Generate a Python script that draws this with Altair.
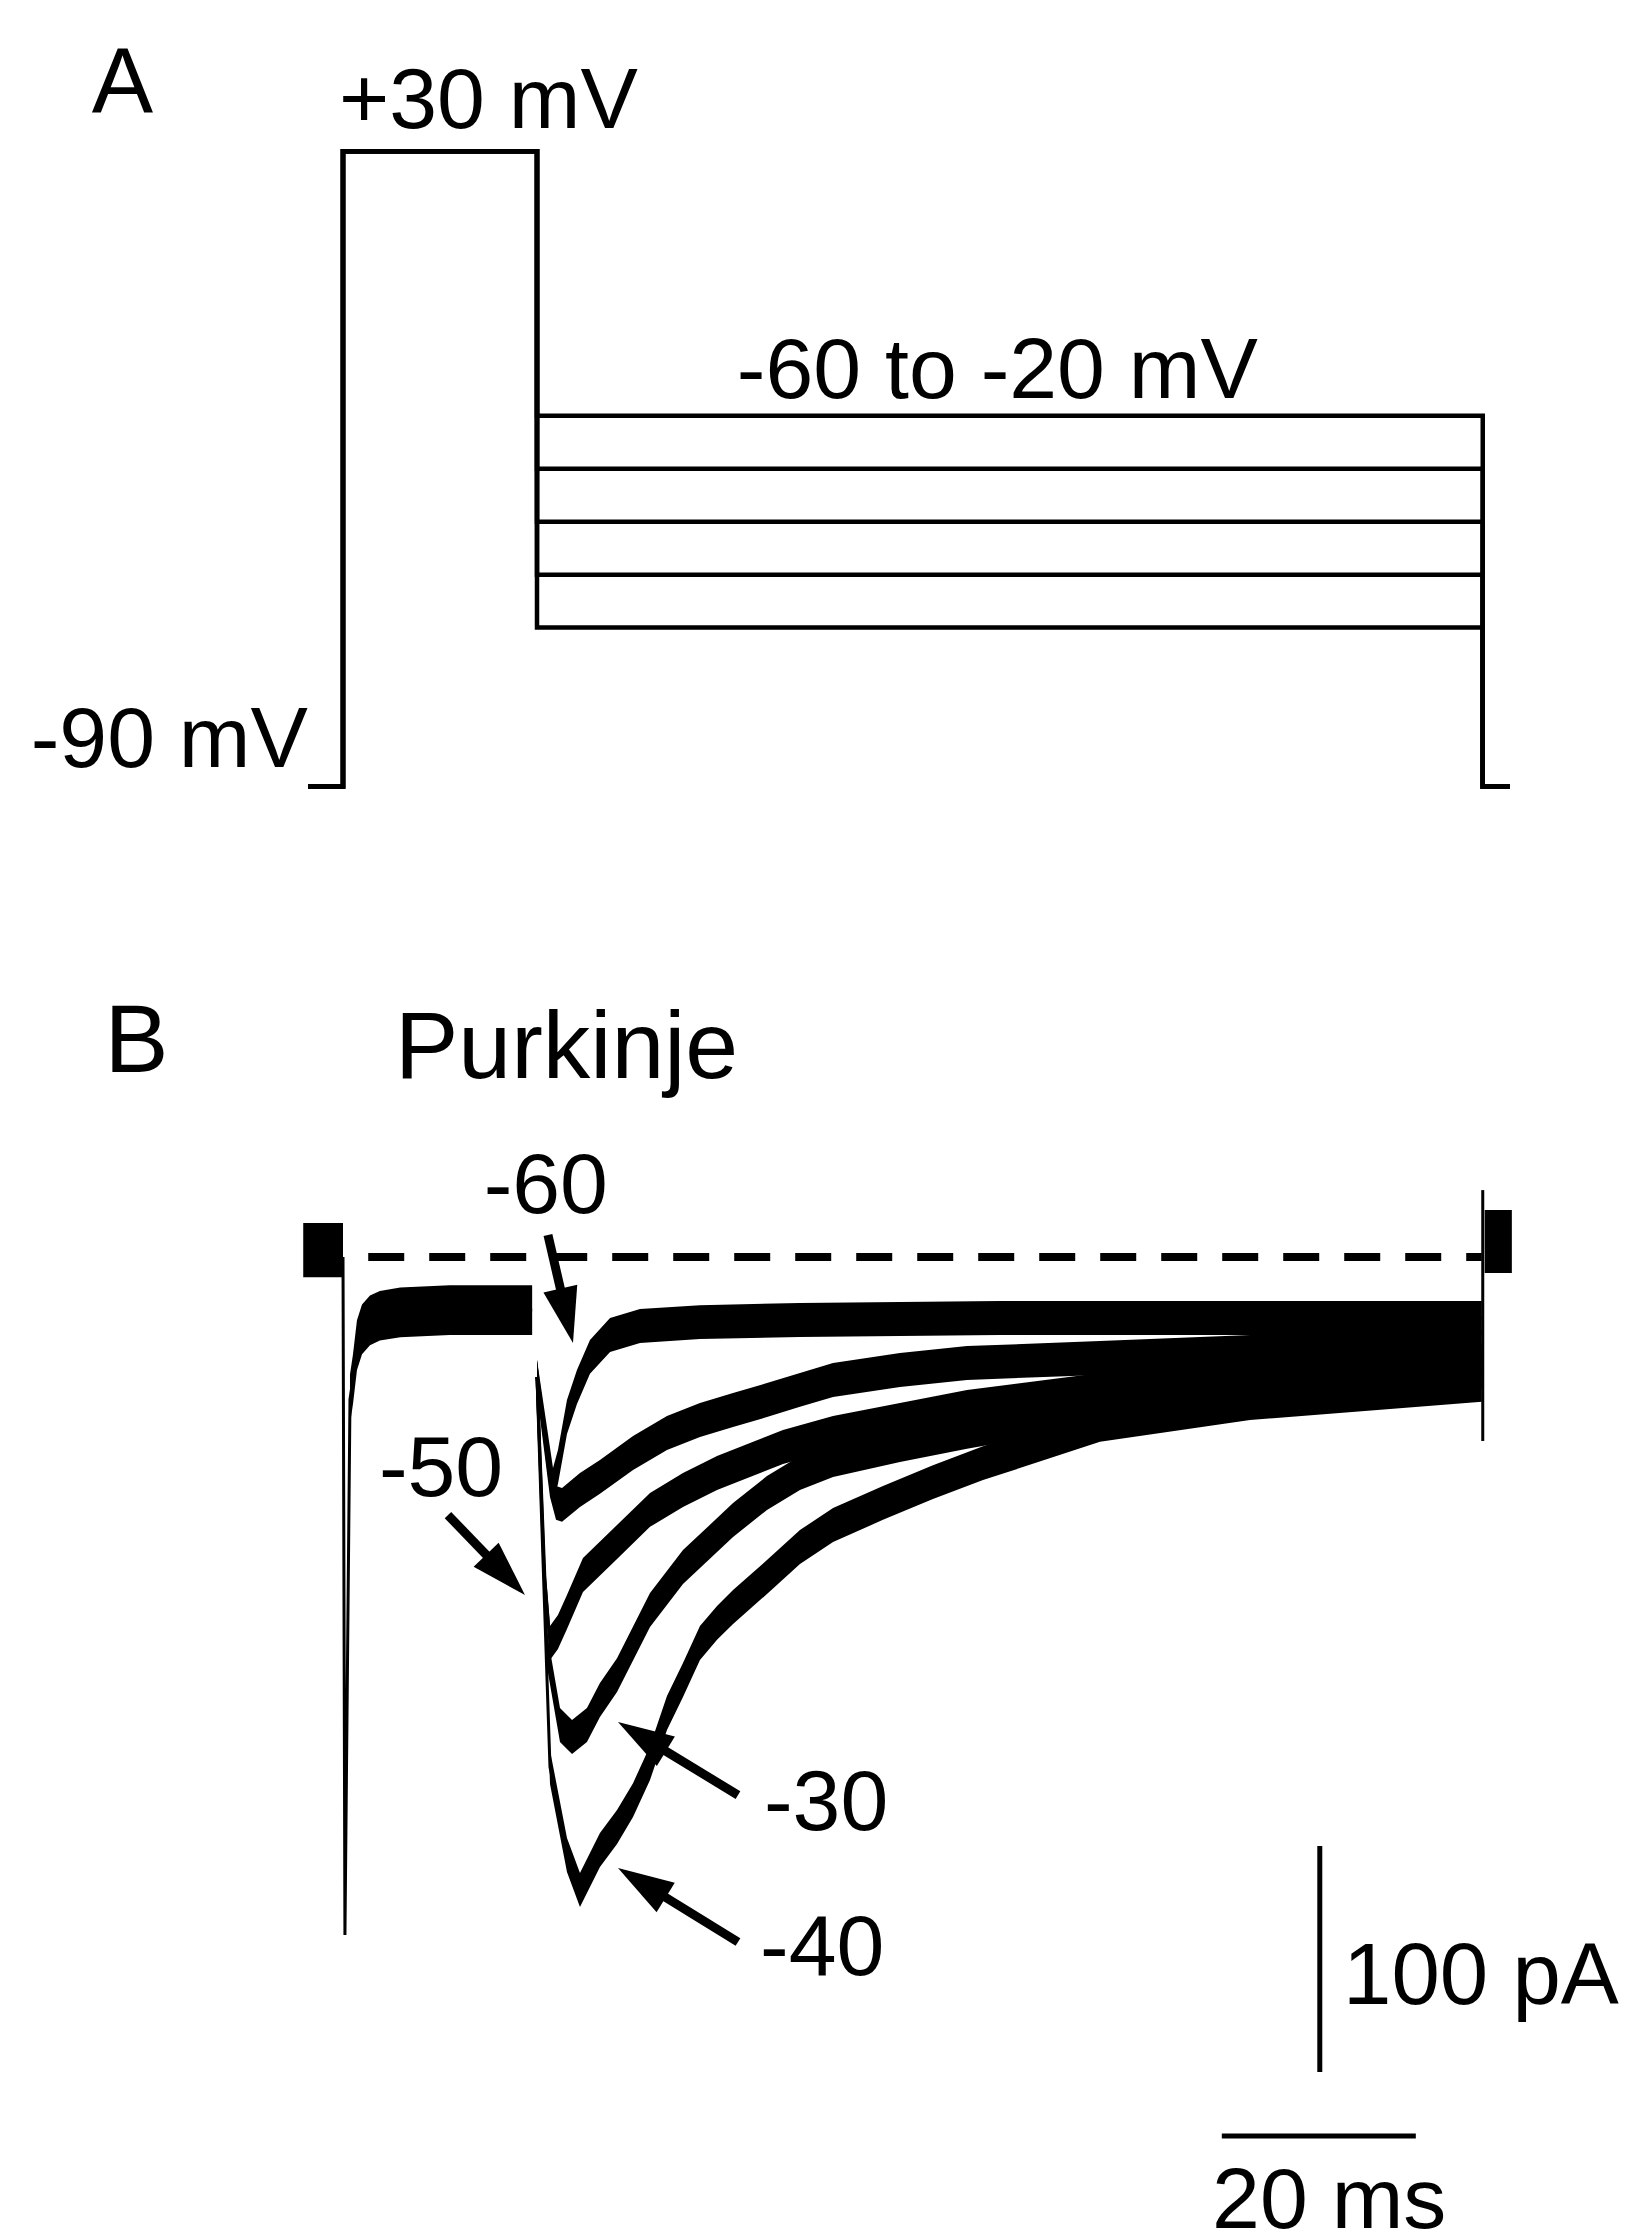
import math
import altair as alt
import pandas as pd

# ------------------------------------------------------------------
# Calibration of the figure (page pixels of the 1643 x 2240 picture)
# ------------------------------------------------------------------
W, H = 1627, 2224          # plot area (page minus 8px margin)
OFF = 8
X_T0 = 343.0               # page x of t = 0 ms
PX_PER_MS = 9.7
MV_REF, Y_MV_REF = -35.0, 495.25
PX_PER_MV = 5.294
Y_PA0 = 1257.0             # page y of 0 pA (dashed line)
PX_PER_PA = 2.26

x_dom = [(OFF - X_T0) / PX_PER_MS, (OFF + W - X_T0) / PX_PER_MS]
mv_dom = [MV_REF - (OFF + H - Y_MV_REF) / PX_PER_MV, MV_REF + (Y_MV_REF - OFF) / PX_PER_MV]
pa_dom = [-(OFF + H - Y_PA0) / PX_PER_PA, (Y_PA0 - OFF) / PX_PER_PA]

# ------------------------------------------------------------------
# Panel A: voltage protocol
# ------------------------------------------------------------------
HOLD_MV = -90
PRE_MV = 30
TEST_MV = [-20, -30, -40, -50, -60]
T_START = -3.6
T_PRE_ON = 0.0
T_TEST_ON = 20.0
T_TEST_OFF = 117.5
T_STOP = 120.3

# ------------------------------------------------------------------
# Panel B: currents (ms, pA)
# ------------------------------------------------------------------
HOLD_T = [-4.1, 0.0]
HOLD_LO = [-9.0, -9.0]
HOLD_HI = [15.0, 15.0]

PRE_T = [0.0, 0.2, 0.72, 1.03, 1.44, 1.96, 2.78, 3.8, 5.9, 11.0, 19.5]
PRE_PA = [0.0, -300.0, -63.0, -54.0, -39.0, -32.0, -28.0, -26.0, -24.5, -23.5, -23.5]

T60_T = [20.0, 21.65, 22.16, 23.09, 24.12, 25.46, 27.53, 30.62, 36.8, 47.1, 67.7, 88.4, 117.4]
T60_PA = [-53.1, -100.9, -92.9, -70.8, -57.5, -44.2, -34.5, -30.5, -28.8, -27.9, -27.0, -27.0, -27.0]

T20_T = [20.0, 21.34, 21.96, 22.58, 24.43, 26.49, 29.90, 33.40, 36.80, 40.21, 43.71, 47.11,
         50.52, 57.42, 64.33, 78.04, 93.51, 117.4]
T20_PA = [-53.1, -98.7, -108.8, -109.7, -103.1, -97.3, -86.7, -77.9, -72.1, -67.7, -63.3, -58.8,
          -54.4, -50.0, -46.9, -44.7, -42.0, -39.8]

T50_T = [20.0, 20.82, 21.34, 22.16, 23.09, 24.74, 28.25, 31.65, 35.05, 38.56, 41.96, 45.36,
         50.52, 57.42, 64.33, 78.04, 93.51, 117.4]
T50_PA = [-53.1, -142.9, -170.8, -165.9, -157.1, -140.7, -126.1, -111.9, -103.1, -95.6, -89.8, -84.1,
          -77.9, -72.1, -66.4, -58.8, -52.2, -45.6]

T30_T = [20.0, 21.03, 22.37, 23.61, 25.15, 26.49, 28.25, 31.65, 35.05, 40.21, 43.71, 47.11,
         50.52, 57.42, 64.33, 78.04, 93.51, 117.4]
T30_PA = [-53.1, -173.9, -207.1, -212.4, -207.1, -196.0, -185.0, -156.2, -137.2, -116.4, -104.4, -95.6,
          -89.8, -83.2, -77.4, -66.8, -58.8, -50.9]

T40_T = [20.0, 20.41, 21.34, 23.09, 24.43, 26.49, 28.25, 29.90, 31.65, 33.40, 35.05, 36.80,
         38.56, 40.21, 43.71, 47.11, 50.52, 55.67, 60.82, 65.98, 78.04, 93.51, 117.4]
T40_PA = [-53.1, -107.5, -225.7, -264.6, -280.1, -262.4, -252.2, -240.3, -223.9, -201.8, -187.2, -170.8,
          -161.9, -154.9, -141.6, -128.3, -118.6, -108.8, -99.6, -91.2, -74.3, -64.6, -56.6]

END_SPIKE_T = 117.5
END_SPIKE_PA = [-81.4, 29.6]
END_T = [117.7, 120.5]
END_LO = [-7.1, -7.1]
END_HI = [20.8, 20.8]

NOISE_PRE = 11.0
NOISE_TEST = 7.5
BAND_FROM_T = 0.6  # spike of the prepulse drawn as thin line only

DASH_T = [2.6, 117.4]

SCALE_PA = 100
SCALE_MS = 20
SCALEBAR_V_T = 100.7
SCALEBAR_V_TOP = -260.6
SCALEBAR_H_T0 = 90.6
SCALEBAR_H_PA = -388.9

# labels: (text, t, value, font size)
LABELS_A = [
    ("A", -25.9, 37.2, 92),
    ("+30 mV", -0.41, 34.4, 86),
    ("-60 to -20 mV", 40.6, -16.6, 86),
    ("-90 mV", -32.2, -86.3, 86),
]
LABELS_B = [
    ("B", -24.6, 81.9, 96),
    ("Purkinje", 5.36, 79.2, 95),
    ("-60", 14.5, 19.5, 86),
    ("-50", 3.7, -105.8, 86),
    ("-30", 43.4, -253.5, 86),
    ("-40", 43.0, -317.7, 86),
    ("100 pA", 103.1, -330.5, 87),
    ("20 ms", 89.6, -429.5, 86),
]
# arrows: (tail t, tail pA, tip t, tip pA)
ARROWS = [
    (21.13, 9.7, 23.71, -38.1),
    (10.82, -114.2, 18.76, -149.6),
    (40.72, -238.1, 28.35, -205.8),
    (40.72, -303.1, 28.35, -270.4),
]
HEAD_LEN = 56.0

FONT = "Liberation Sans"

# ------------------------------------------------------------------
# Build tables
# ------------------------------------------------------------------
rows = []
for v in TEST_MV:
    ts = [T_START, T_PRE_ON, T_PRE_ON, T_TEST_ON, T_TEST_ON, T_TEST_OFF, T_TEST_OFF, T_STOP]
    vs = [HOLD_MV, HOLD_MV, PRE_MV, PRE_MV, v, v, HOLD_MV, HOLD_MV]
    for i, (t, mv) in enumerate(zip(ts, vs)):
        rows.append({"trace": str(v), "i": i, "t": t, "mV": mv})
proto = pd.DataFrame(rows)

traces = {
    "pre": (PRE_T, PRE_PA, NOISE_PRE),
    "-60": (T60_T, T60_PA, NOISE_TEST),
    "-20": (T20_T, T20_PA, NOISE_TEST),
    "-50": (T50_T, T50_PA, NOISE_TEST),
    "-30": (T30_T, T30_PA, NOISE_TEST),
    "-40": (T40_T, T40_PA, NOISE_TEST),
}
rows = []
for name, (ts, ps, nz) in traces.items():
    for i, (t, p) in enumerate(zip(ts, ps)):
        rows.append({"trace": name, "i": i, "t": t, "pA": p, "lo": p - nz, "hi": p + nz})
cur = pd.DataFrame(rows)
band = cur[cur["t"] >= BAND_FROM_T]

blobs = pd.DataFrame(
    [{"g": "hold", "t": t, "lo": lo, "hi": hi} for t, lo, hi in zip(HOLD_T, HOLD_LO, HOLD_HI)]
    + [{"g": "end", "t": t, "lo": lo, "hi": hi} for t, lo, hi in zip(END_T, END_LO, END_HI)]
)

spike = pd.DataFrame([{"t": END_SPIKE_T, "t2": END_SPIKE_T, "pA": END_SPIKE_PA[0], "pA2": END_SPIKE_PA[1]}])
dash = pd.DataFrame([{"t": DASH_T[0], "t2": DASH_T[1], "pA": 0.0, "pA2": 0.0}])
bars = pd.DataFrame([
    {"t": SCALEBAR_V_T, "t2": SCALEBAR_V_T, "pA": SCALEBAR_V_TOP, "pA2": SCALEBAR_V_TOP - SCALE_PA},
    {"t": SCALEBAR_H_T0, "t2": SCALEBAR_H_T0 + SCALE_MS, "pA": SCALEBAR_H_PA, "pA2": SCALEBAR_H_PA},
])

labA = pd.DataFrame([{"text": s, "t": t, "mV": v, "fs": fs} for s, t, v, fs in LABELS_A])
labB = pd.DataFrame([{"text": s, "t": t, "pA": v, "fs": fs} for s, t, v, fs in LABELS_B])


def to_px(t, p):
    return X_T0 + PX_PER_MS * t, Y_PA0 - PX_PER_PA * p


def to_data(X, Y):
    return (X - X_T0) / PX_PER_MS, -(Y - Y_PA0) / PX_PER_PA


shafts, heads = [], []
for tt, tp, ht, hp in ARROWS:
    x1, y1 = to_px(tt, tp)
    x2, y2 = to_px(ht, hp)
    dx, dy = x2 - x1, y2 - y1
    L = math.hypot(dx, dy)
    ux, uy = dx / L, dy / L
    cx, cy = x2 - ux * HEAD_LEN / 2, y2 - uy * HEAD_LEN / 2
    ct, cp = to_data(cx, cy)
    shafts.append({"t": tt, "pA": tp, "t2": ct, "pA2": cp})
    ang = math.degrees(math.atan2(dx, -dy)) % 360
    heads.append({"t": ct, "pA": cp, "ang": ang})
shafts = pd.DataFrame(shafts)
heads = pd.DataFrame(heads)

# ------------------------------------------------------------------
# Encodings
# ------------------------------------------------------------------
xs = alt.Scale(domain=x_dom, nice=False, zero=False)
ys_a = alt.Scale(domain=mv_dom, nice=False, zero=False)
ys_b = alt.Scale(domain=pa_dom, nice=False, zero=False)

X = alt.X("t:Q", scale=xs, axis=None)

# Panel A
proto_line = alt.Chart(proto).mark_line(color="black", strokeWidth=4.5, strokeJoin="miter").encode(
    x=X, y=alt.Y("mV:Q", scale=ys_a, axis=None), detail="trace:N", order="i:Q"
)
textA = alt.Chart(labA).mark_text(align="left", baseline="alphabetic", font=FONT, color="black").encode(
    x=X, y=alt.Y("mV:Q", scale=ys_a, axis=None), text="text:N", size=alt.Size("fs:Q", scale=None)
)
panelA = alt.layer(proto_line, textA)

# Panel B
YB = alt.Y("pA:Q", scale=ys_b, axis=None)
blob_area = alt.Chart(blobs).mark_area(color="black", opacity=1).encode(
    x=X, y=alt.Y("lo:Q", scale=ys_b, axis=None), y2="hi:Q", detail="g:N"
)
band_area = alt.Chart(band).mark_area(color="black", opacity=1).encode(
    x=X, y=alt.Y("lo:Q", scale=ys_b, axis=None), y2="hi:Q", detail="trace:N"
)
trace_line = alt.Chart(cur).mark_line(color="black", strokeWidth=3).encode(
    x=X, y=YB, detail="trace:N", order="i:Q"
)
spike_rule = alt.Chart(spike).mark_rule(color="black", strokeWidth=3).encode(
    x=X, x2="t2:Q", y=YB, y2="pA2:Q"
)
dash_rule = alt.Chart(dash).mark_rule(color="black", strokeWidth=8, strokeDash=[36, 25]).encode(
    x=X, x2="t2:Q", y=YB, y2="pA2:Q"
)
bar_rule = alt.Chart(bars).mark_rule(color="black", strokeWidth=5).encode(
    x=X, x2="t2:Q", y=YB, y2="pA2:Q"
)
shaft_rule = alt.Chart(shafts).mark_rule(color="black", strokeWidth=9).encode(
    x=X, x2="t2:Q", y=YB, y2="pA2:Q"
)
head_pts = alt.Chart(heads).mark_point(
    shape="M0,-1L0.62,1L-0.62,1Z", filled=True, size=HEAD_LEN * HEAD_LEN,
    color="black", opacity=1, strokeWidth=0
).encode(x=X, y=YB, angle=alt.Angle("ang:Q", scale=None))
textB = alt.Chart(labB).mark_text(align="left", baseline="alphabetic", font=FONT, color="black").encode(
    x=X, y=YB, text="text:N", size=alt.Size("fs:Q", scale=None)
)
panelB = alt.layer(dash_rule, blob_area, band_area, trace_line, spike_rule, bar_rule,
                   shaft_rule, head_pts, textB)

chart = (
    alt.layer(panelA, panelB)
    .resolve_scale(y="independent")
    .properties(width=W, height=H, padding=0, background="white")
    .configure_view(stroke=None)
)

chart.save("out.html", embed_options={"renderer": "svg", "actions": False})
